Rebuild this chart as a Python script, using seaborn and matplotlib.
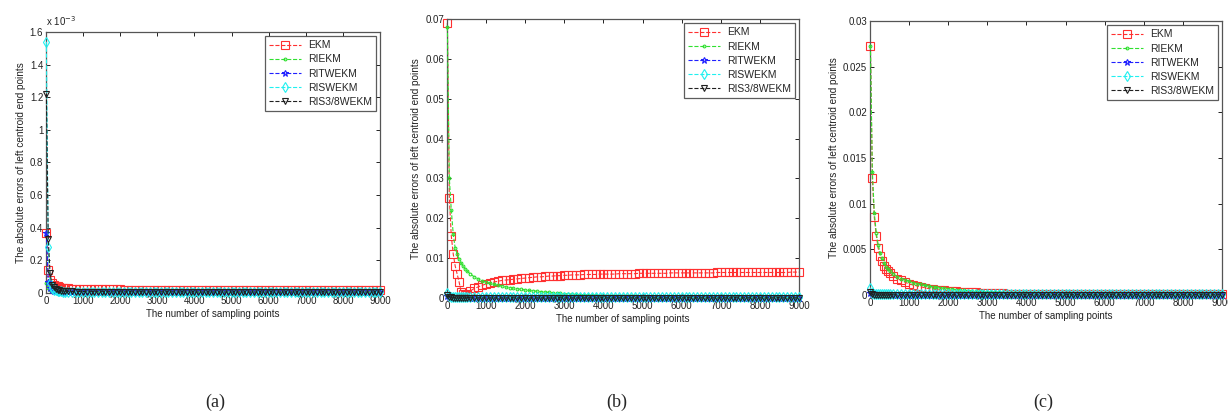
import matplotlib
matplotlib.use("Agg")
import matplotlib.pyplot as plt
import seaborn as sns
import pandas as pd
from matplotlib.ticker import FuncFormatter, MultipleLocator

sns.set_theme(style="ticks")
plt.rcParams["font.family"] = ["Liberation Sans", "DejaVu Sans"]

# ---------------- data (sampling points shared by all panels) ----------------
sample_points = [10, 60, 110, 160, 210, 260, 310, 360, 410, 460, 510,
                 600, 700, 800, 900, 1000, 1100, 1200, 1300, 1400, 1500,
                 1600, 1700, 1800, 1900, 2000, 2100, 2200, 2300, 2400, 2500,
                 2600, 2700, 2800, 2900, 3000, 3100, 3200, 3300, 3400, 3500,
                 3600, 3700, 3800, 3900, 4000, 4100, 4200, 4300, 4400, 4500,
                 4600, 4700, 4800, 4900, 5000, 5100, 5200, 5300, 5400, 5500,
                 5600, 5700, 5800, 5900, 6000, 6100, 6200, 6300, 6400, 6500,
                 6600, 6700, 6800, 6900, 7000, 7100, 7200, 7300, 7400, 7500,
                 7600, 7700, 7800, 7900, 8000, 8100, 8200, 8300, 8400, 8500,
                 8600, 8700, 8800, 8900, 9000]

methods = ["EKM", "RIEKM", "RITWEKM", "RISWEKM", "RIS3/8WEKM"]
captions = ["(a)", "(b)", "(c)"]

# values in units of 1e-3
a_ekm = [0.37, 0.14, 0.08, 0.06, 0.05, 0.045, 0.04, 0.036, 0.033, 0.031, 0.03,
         0.028, 0.027, 0.026, 0.025, 0.025, 0.024, 0.024, 0.023, 0.023, 0.023,
         0.022, 0.022, 0.022, 0.022, 0.022, 0.021, 0.021, 0.021, 0.021, 0.021,
         0.021, 0.021, 0.021, 0.02, 0.02, 0.02, 0.02, 0.02, 0.02, 0.02,
         0.02, 0.02, 0.02, 0.02, 0.02, 0.02, 0.02, 0.02, 0.02, 0.02,
         0.02, 0.02, 0.02, 0.02, 0.02, 0.02, 0.02, 0.02, 0.02, 0.02,
         0.02, 0.02, 0.02, 0.02, 0.02, 0.02, 0.02, 0.02, 0.02, 0.02,
         0.02, 0.02, 0.02, 0.02, 0.02, 0.02, 0.02, 0.02, 0.02, 0.02,
         0.02, 0.02, 0.02, 0.02, 0.02, 0.02, 0.02, 0.02, 0.02, 0.02,
         0.02, 0.02, 0.02, 0.02, 0.02]
a_riekm = [0.06, 0.03, 0.02, 0.014, 0.011, 0.009, 0.008, 0.007, 0.006, 0.006, 0.005,
           0.005, 0.005, 0.005, 0.005, 0.005, 0.004, 0.004, 0.004, 0.004, 0.004,
           0.004, 0.004, 0.004, 0.004, 0.004, 0.004, 0.004, 0.004, 0.004, 0.004,
           0.004, 0.004, 0.004, 0.004, 0.004, 0.004, 0.004, 0.004, 0.004, 0.004,
           0.003, 0.003, 0.003, 0.003, 0.003, 0.003, 0.003, 0.003, 0.003, 0.003,
           0.003, 0.003, 0.003, 0.003, 0.003, 0.003, 0.003, 0.003, 0.003, 0.003,
           0.003, 0.003, 0.003, 0.003, 0.003, 0.003, 0.003, 0.003, 0.003, 0.003,
           0.003, 0.003, 0.003, 0.003, 0.003, 0.003, 0.003, 0.003, 0.003, 0.003,
           0.003, 0.003, 0.003, 0.003, 0.003, 0.003, 0.003, 0.003, 0.003, 0.003,
           0.003, 0.003, 0.003, 0.003, 0.003]
a_ritwekm = [0.37, 0.07, 0.03, 0.02, 0.015, 0.012, 0.01, 0.009, 0.008, 0.007, 0.007,
             0.006, 0.006, 0.006, 0.006, 0.006, 0.006, 0.005, 0.005, 0.005, 0.005,
             0.005, 0.005, 0.005, 0.005, 0.005, 0.005, 0.005, 0.005, 0.005, 0.005,
             0.005, 0.005, 0.005, 0.005, 0.005, 0.005, 0.005, 0.005, 0.005, 0.005,
             0.004, 0.004, 0.004, 0.004, 0.004, 0.004, 0.004, 0.004, 0.004, 0.004,
             0.004, 0.004, 0.004, 0.004, 0.004, 0.004, 0.004, 0.004, 0.004, 0.004,
             0.004, 0.004, 0.004, 0.004, 0.004, 0.004, 0.004, 0.004, 0.004, 0.004,
             0.004, 0.004, 0.004, 0.004, 0.004, 0.004, 0.004, 0.004, 0.004, 0.004,
             0.004, 0.004, 0.004, 0.004, 0.004, 0.004, 0.004, 0.004, 0.004, 0.004,
             0.004, 0.004, 0.004, 0.004, 0.004]
a_riswekm = [1.54, 0.28, 0.06, 0.03, 0.02, 0.016, 0.013, 0.011, 0.01, 0.009, 0.008,
             0.007, 0.007, 0.007, 0.007, 0.007, 0.006, 0.006, 0.006, 0.006, 0.006,
             0.006, 0.006, 0.006, 0.006, 0.006, 0.006, 0.006, 0.006, 0.006, 0.006,
             0.006, 0.006, 0.006, 0.006, 0.006, 0.006, 0.006, 0.006, 0.006, 0.006,
             0.005, 0.005, 0.005, 0.005, 0.005, 0.005, 0.005, 0.005, 0.005, 0.005,
             0.005, 0.005, 0.005, 0.005, 0.005, 0.005, 0.005, 0.005, 0.005, 0.005,
             0.005, 0.005, 0.005, 0.005, 0.005, 0.005, 0.005, 0.005, 0.005, 0.005,
             0.005, 0.005, 0.005, 0.005, 0.005, 0.005, 0.005, 0.005, 0.005, 0.005,
             0.005, 0.005, 0.005, 0.005, 0.005, 0.005, 0.005, 0.005, 0.005, 0.005,
             0.005, 0.005, 0.005, 0.005, 0.005]
a_ris38 = [1.22, 0.33, 0.12, 0.05, 0.035, 0.026, 0.02, 0.016, 0.014, 0.012, 0.011,
           0.01, 0.01, 0.009, 0.009, 0.009, 0.008, 0.008, 0.008, 0.008, 0.008,
           0.008, 0.008, 0.007, 0.007, 0.007, 0.007, 0.007, 0.007, 0.007, 0.007,
           0.007, 0.007, 0.007, 0.007, 0.007, 0.007, 0.007, 0.007, 0.007, 0.007,
           0.006, 0.006, 0.006, 0.006, 0.006, 0.006, 0.006, 0.006, 0.006, 0.006,
           0.006, 0.006, 0.006, 0.006, 0.006, 0.006, 0.006, 0.006, 0.006, 0.006,
           0.006, 0.006, 0.006, 0.006, 0.006, 0.006, 0.006, 0.006, 0.006, 0.006,
           0.006, 0.006, 0.006, 0.006, 0.006, 0.006, 0.006, 0.006, 0.006, 0.006,
           0.006, 0.006, 0.006, 0.006, 0.006, 0.006, 0.006, 0.006, 0.006, 0.006,
           0.006, 0.006, 0.006, 0.006, 0.006]

b_ekm = [69, 25, 15.5, 11, 8, 6, 4, 1.5, 0.9, 0.8, 1.1,
         1.8, 2.4, 2.8, 3.2, 3.5, 3.8, 4.0, 4.2, 4.4, 4.5,
         4.6, 4.7, 4.8, 4.9, 5.0, 5.1, 5.2, 5.3, 5.3, 5.4,
         5.5, 5.5, 5.6, 5.6, 5.7, 5.7, 5.8, 5.8, 5.8, 5.9,
         5.9, 5.9, 5.9, 6.0, 6.0, 6.0, 6.0, 6.0, 6.1, 6.1,
         6.1, 6.1, 6.1, 6.2, 6.2, 6.2, 6.2, 6.2, 6.2, 6.2,
         6.2, 6.3, 6.3, 6.3, 6.3, 6.3, 6.3, 6.3, 6.3, 6.3,
         6.3, 6.3, 6.3, 6.4, 6.4, 6.4, 6.4, 6.4, 6.4, 6.4,
         6.4, 6.4, 6.4, 6.4, 6.4, 6.4, 6.4, 6.4, 6.4, 6.4,
         6.4, 6.4, 6.5, 6.5, 6.5]
b_riekm = [68, 30, 22, 16, 12.5, 11, 9.8, 8.8, 8.0, 7.4, 6.8,
           6.0, 5.3, 4.8, 4.3, 4.0, 3.7, 3.4, 3.2, 3.0, 2.8,
           2.6, 2.5, 2.3, 2.2, 2.0, 1.9, 1.8, 1.7, 1.6, 1.5,
           1.4, 1.3, 1.2, 1.15, 1.1, 1.0, 0.95, 0.9, 0.85, 0.8,
           0.75, 0.7, 0.65, 0.6, 0.6, 0.55, 0.5, 0.5, 0.45, 0.45,
           0.4, 0.4, 0.4, 0.35, 0.35, 0.35, 0.3, 0.3, 0.3, 0.3,
           0.3, 0.25, 0.25, 0.25, 0.25, 0.25, 0.25, 0.25, 0.25, 0.25,
           0.25, 0.2, 0.2, 0.2, 0.2, 0.2, 0.2, 0.2, 0.2, 0.2,
           0.2, 0.2, 0.2, 0.2, 0.2, 0.2, 0.2, 0.2, 0.2, 0.15,
           0.15, 0.15, 0.15, 0.15, 0.15]
b_ritwekm = [0.4, 0.2, 0.15, 0.12, 0.1, 0.1, 0.1, 0.1, 0.1, 0.1, 0.1,
             0.1, 0.1, 0.1, 0.1, 0.1, 0.1, 0.1, 0.1, 0.1, 0.1,
             0.1, 0.1, 0.1, 0.1, 0.1, 0.1, 0.1, 0.1, 0.1, 0.1,
             0.1, 0.1, 0.1, 0.1, 0.1, 0.1, 0.1, 0.1, 0.1, 0.1,
             0.1, 0.1, 0.1, 0.1, 0.1, 0.1, 0.1, 0.1, 0.1, 0.1,
             0.1, 0.1, 0.1, 0.1, 0.1, 0.1, 0.1, 0.1, 0.1, 0.1,
             0.1, 0.1, 0.1, 0.1, 0.1, 0.1, 0.1, 0.1, 0.1, 0.1,
             0.1, 0.1, 0.1, 0.1, 0.1, 0.1, 0.1, 0.1, 0.1, 0.1,
             0.1, 0.1, 0.1, 0.1, 0.1, 0.1, 0.1, 0.1, 0.1, 0.1,
             0.1, 0.1, 0.1, 0.1, 0.1]
b_riswekm = [1.2, 0.4, 0.25, 0.2, 0.2, 0.2, 0.2, 0.2, 0.2, 0.2, 0.2,
             0.2, 0.2, 0.2, 0.2, 0.2, 0.2, 0.2, 0.2, 0.2, 0.2,
             0.2, 0.2, 0.2, 0.2, 0.2, 0.2, 0.2, 0.2, 0.2, 0.2,
             0.2, 0.2, 0.2, 0.2, 0.2, 0.2, 0.2, 0.2, 0.2, 0.2,
             0.2, 0.2, 0.2, 0.2, 0.2, 0.2, 0.2, 0.2, 0.2, 0.2,
             0.2, 0.2, 0.2, 0.2, 0.2, 0.2, 0.2, 0.2, 0.2, 0.2,
             0.2, 0.2, 0.2, 0.2, 0.2, 0.2, 0.2, 0.2, 0.2, 0.2,
             0.2, 0.2, 0.2, 0.2, 0.2, 0.2, 0.2, 0.2, 0.2, 0.2,
             0.2, 0.2, 0.2, 0.2, 0.2, 0.2, 0.2, 0.2, 0.2, 0.2,
             0.2, 0.2, 0.2, 0.2, 0.2]
b_ris38 = [0.8, 0.3, 0.15, 0.1, 0.08, 0.06, 0.05, 0.05, 0.05, 0.05, 0.05,
           0.05, 0.05, 0.05, 0.05, 0.05, 0.05, 0.05, 0.05, 0.05, 0.05,
           0.05, 0.05, 0.05, 0.05, 0.05, 0.05, 0.05, 0.05, 0.05, 0.05,
           0.05, 0.05, 0.05, 0.05, 0.05, 0.05, 0.05, 0.05, 0.05, 0.05,
           0.05, 0.05, 0.05, 0.05, 0.05, 0.05, 0.05, 0.05, 0.05, 0.05,
           0.05, 0.05, 0.05, 0.05, 0.05, 0.05, 0.05, 0.05, 0.05, 0.05,
           0.05, 0.05, 0.05, 0.05, 0.05, 0.05, 0.05, 0.05, 0.05, 0.05,
           0.05, 0.05, 0.05, 0.05, 0.05, 0.05, 0.05, 0.05, 0.05, 0.05,
           0.05, 0.05, 0.05, 0.05, 0.05, 0.05, 0.05, 0.05, 0.05, 0.05,
           0.05, 0.05, 0.05, 0.05, 0.05]

c_ekm = [27.3, 12.8, 8.5, 6.5, 5.1, 4.3, 3.7, 3.2, 2.9, 2.6, 2.4,
         2.1, 1.8, 1.6, 1.4, 1.2, 1.1, 1.0, 0.9, 0.8, 0.7,
         0.65, 0.6, 0.55, 0.5, 0.45, 0.42, 0.4, 0.37, 0.34, 0.32,
         0.3, 0.28, 0.26, 0.24, 0.22, 0.2, 0.19, 0.18, 0.17, 0.16,
         0.15, 0.15, 0.14, 0.14, 0.13, 0.13, 0.13, 0.12, 0.12, 0.12,
         0.12, 0.11, 0.11, 0.11, 0.11, 0.1, 0.1, 0.1, 0.1, 0.1,
         0.1, 0.1, 0.1, 0.1, 0.1, 0.1, 0.1, 0.12, 0.12, 0.12,
         0.12, 0.12, 0.12, 0.12, 0.12, 0.12, 0.12, 0.12, 0.12, 0.12,
         0.12, 0.12, 0.12, 0.12, 0.12, 0.12, 0.12, 0.12, 0.12, 0.12,
         0.12, 0.12, 0.12, 0.12, 0.12]
c_riekm = [27.3, 13.5, 9.0, 6.8, 5.5, 4.6, 4.0, 3.5, 3.1, 2.8, 2.6,
           2.3, 2.0, 1.8, 1.65, 1.5, 1.35, 1.25, 1.15, 1.05, 1.0,
           0.9, 0.85, 0.8, 0.75, 0.7, 0.65, 0.6, 0.56, 0.52, 0.48,
           0.45, 0.42, 0.4, 0.37, 0.35, 0.33, 0.31, 0.29, 0.27, 0.25,
           0.24, 0.23, 0.22, 0.21, 0.2, 0.19, 0.18, 0.17, 0.16, 0.15,
           0.15, 0.14, 0.14, 0.13, 0.13, 0.12, 0.12, 0.12, 0.11, 0.11,
           0.11, 0.1, 0.1, 0.1, 0.1, 0.1, 0.1, 0.1, 0.1, 0.1,
           0.09, 0.09, 0.09, 0.09, 0.09, 0.09, 0.09, 0.09, 0.09, 0.09,
           0.08, 0.08, 0.08, 0.08, 0.08, 0.08, 0.08, 0.08, 0.08, 0.08,
           0.08, 0.08, 0.08, 0.08, 0.08]
c_ritwekm = [0.2, 0.1, 0.08, 0.06, 0.05, 0.05, 0.05, 0.05, 0.05, 0.05, 0.05,
             0.05, 0.05, 0.05, 0.05, 0.05, 0.05, 0.05, 0.05, 0.05, 0.05,
             0.05, 0.05, 0.05, 0.05, 0.05, 0.05, 0.05, 0.05, 0.05, 0.05,
             0.05, 0.05, 0.05, 0.05, 0.05, 0.05, 0.05, 0.05, 0.05, 0.05,
             0.05, 0.05, 0.05, 0.05, 0.05, 0.05, 0.05, 0.05, 0.05, 0.05,
             0.05, 0.05, 0.05, 0.05, 0.05, 0.05, 0.05, 0.05, 0.05, 0.05,
             0.05, 0.05, 0.05, 0.05, 0.05, 0.05, 0.05, 0.05, 0.05, 0.05,
             0.05, 0.05, 0.05, 0.05, 0.05, 0.05, 0.05, 0.05, 0.05, 0.05,
             0.05, 0.05, 0.05, 0.05, 0.05, 0.05, 0.05, 0.05, 0.05, 0.05,
             0.05, 0.05, 0.05, 0.05, 0.05]
c_riswekm = [0.8, 0.2, 0.15, 0.12, 0.1, 0.1, 0.1, 0.1, 0.1, 0.1, 0.1,
             0.1, 0.1, 0.1, 0.1, 0.1, 0.1, 0.1, 0.1, 0.1, 0.1,
             0.1, 0.1, 0.1, 0.1, 0.1, 0.1, 0.1, 0.1, 0.1, 0.1,
             0.1, 0.1, 0.1, 0.1, 0.1, 0.1, 0.1, 0.1, 0.1, 0.1,
             0.1, 0.1, 0.1, 0.1, 0.1, 0.1, 0.1, 0.1, 0.1, 0.1,
             0.1, 0.1, 0.1, 0.1, 0.1, 0.1, 0.1, 0.1, 0.1, 0.1,
             0.1, 0.1, 0.1, 0.1, 0.1, 0.1, 0.1, 0.1, 0.1, 0.1,
             0.1, 0.1, 0.1, 0.1, 0.1, 0.1, 0.1, 0.1, 0.1, 0.1,
             0.1, 0.1, 0.1, 0.1, 0.1, 0.1, 0.1, 0.1, 0.1, 0.1,
             0.1, 0.1, 0.1, 0.1, 0.1]
c_ris38 = [0.3, 0.1, 0.05, 0.03, 0.03, 0.03, 0.03, 0.03, 0.03, 0.03, 0.03,
           0.03, 0.03, 0.03, 0.03, 0.03, 0.03, 0.03, 0.03, 0.03, 0.03,
           0.03, 0.03, 0.03, 0.03, 0.03, 0.03, 0.03, 0.03, 0.03, 0.03,
           0.03, 0.03, 0.03, 0.03, 0.03, 0.03, 0.03, 0.03, 0.03, 0.03,
           0.03, 0.03, 0.03, 0.03, 0.03, 0.03, 0.03, 0.03, 0.03, 0.03,
           0.03, 0.03, 0.03, 0.03, 0.03, 0.03, 0.03, 0.03, 0.03, 0.03,
           0.03, 0.03, 0.03, 0.03, 0.03, 0.03, 0.03, 0.03, 0.03, 0.03,
           0.03, 0.03, 0.03, 0.03, 0.03, 0.03, 0.03, 0.03, 0.03, 0.03,
           0.03, 0.03, 0.03, 0.03, 0.03, 0.03, 0.03, 0.03, 0.03, 0.03,
           0.03, 0.03, 0.03, 0.03, 0.03]

panels = [
    [a_ekm, a_riekm, a_ritwekm, a_riswekm, a_ris38],
    [b_ekm, b_riekm, b_ritwekm, b_riswekm, b_ris38],
    [c_ekm, c_riekm, c_ritwekm, c_riswekm, c_ris38],
]
ylims = [1.6, 70, 30]
ysteps = [0.2, 10, 5]

# ---------------- styling ----------------
colors = ["#ff3030", "#30e030", "#2020ff", "#20f0f0", "#202020"]
markers = ["s", ".", "*", "d", "v"]
msizes = [5.5, 4, 5, 5, 5]

W, H = 1228, 413
fig = plt.figure(figsize=(W / 100, H / 100), dpi=100)
fig.patch.set_facecolor("white")

boxes = [(46, 380, 32, 293), (447, 799, 19, 298), (870, 1222, 21, 295)]
cap_x = [215, 617, 1043]

for p, (series, box) in enumerate(zip(panels, boxes)):
    l, r, t, b = box
    ax = fig.add_axes([l / W, (H - b) / H, (r - l) / W, (b - t) / H])
    ax.set_facecolor("white")
    for i, vals in enumerate(series):
        df = pd.DataFrame({"x": sample_points, "y": vals})
        sns.lineplot(data=df, x="x", y="y", ax=ax, color=colors[i],
                     linestyle="--", linewidth=0.8, marker=markers[i],
                     markersize=msizes[i], markerfacecolor="none",
                     markeredgecolor=colors[i], markeredgewidth=0.8,
                     label=methods[i], clip_on=False, zorder=2 + i)
    ax.set_xlim(0, 9000)
    ax.set_ylim(0, ylims[p])
    ax.xaxis.set_major_locator(MultipleLocator(1000))
    ax.yaxis.set_major_locator(MultipleLocator(ysteps[p]))
    if p == 0:
        ax.yaxis.set_major_formatter(FuncFormatter(lambda v, pos: "%g" % round(v, 6)))
        ax.text(0.0, 1.015, "x 10$^{-3}$", transform=ax.transAxes,
                fontsize=7, ha="left", va="bottom", color="#222222")
    else:
        ax.yaxis.set_major_formatter(FuncFormatter(lambda v, pos: "%g" % round(v * 1e-3, 6)))
    ax.xaxis.set_major_formatter(FuncFormatter(lambda v, pos: "%d" % v))
    ax.tick_params(direction="in", top=True, right=True, length=3, width=0.7,
                   labelsize=7, pad=2, colors="#222222")
    for s in ax.spines.values():
        s.set_color("#555555")
        s.set_linewidth(0.9)
    ax.set_xlabel("The number of sampling points", fontsize=7, labelpad=2, color="#222222")
    ax.set_ylabel("The absolute errors of left centroid end points", fontsize=7.2,
                  labelpad=3, color="#222222")
    leg = ax.legend(loc="upper right", fontsize=7.5, frameon=True, fancybox=False,
                    handlelength=3.1, handletextpad=0.6, labelspacing=0.4,
                    borderpad=0.4, borderaxespad=0.4)
    leg.get_frame().set_edgecolor("#333333")
    leg.get_frame().set_linewidth(0.9)
    fig.text(cap_x[p] / W, 1 - 402 / H, captions[p], fontsize=13,
             family=["Liberation Serif", "DejaVu Serif"], ha="center", va="center")

fig.savefig("out.png", dpi=100, facecolor="white")
